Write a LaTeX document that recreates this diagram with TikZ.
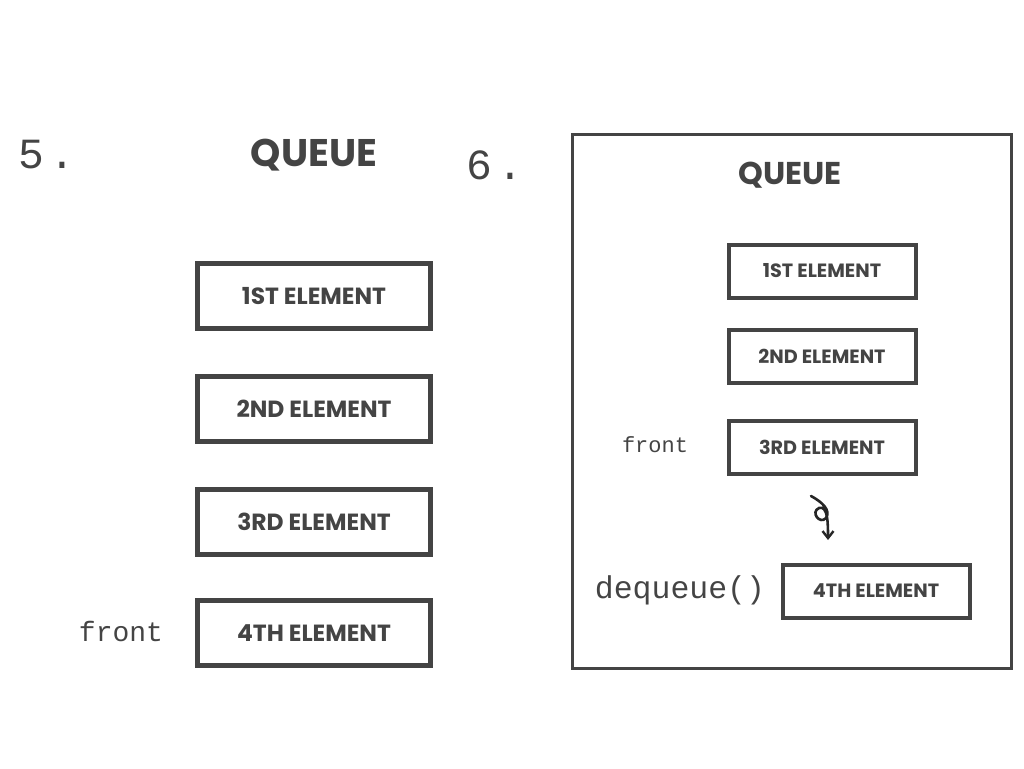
\documentclass[tikz,border=0pt]{standalone}
\usepackage{fontspec}
\setmainfont{Poppins}
\newfontfamily\monof{Liberation Mono}
\usetikzlibrary{arrows.meta}
\definecolor{ink}{HTML}{444444}
\tikzset{
  elbig/.style={draw=ink, line width=5pt, minimum width=233pt, minimum height=65pt, inner sep=0pt, text=ink, font=\fontsize{23.4}{23.4}\selectfont\bfseries},
  elsmall/.style={draw=ink, line width=4pt, minimum width=187pt, minimum height=53pt, inner sep=0pt, text=ink, font=\fontsize{19.2}{19.2}\selectfont\bfseries},
  title/.style={text=ink, font=\fontsize{38.5}{38.5}\selectfont\bfseries, inner sep=0pt},
  mono/.style={text=ink, inner sep=0pt, font=\monof},
}
\begin{document}
\begin{tikzpicture}[x=1pt,y=-1pt]
\useasboundingbox (0,0) rectangle (1024,768);
% left panel
\node[mono, font=\monof\fontsize{43}{43}\selectfont, anchor=west] (n5) at (18,155) {5\hspace{6pt}.};
\node[title] (q1) at (314,155) {QUEUE};
\node[elbig] (a1) at (314,296) {1ST ELEMENT};
\node[elbig] (a2) at (314,409) {2ND ELEMENT};
\node[elbig] (a3) at (314,522) {3RD ELEMENT};
\node[elbig] (a4) at (314,633) {4TH ELEMENT};
\node[mono, font=\monof\fontsize{28}{28}\selectfont] (f1) at (121,631) {front};
% right panel
\node[mono, font=\monof\fontsize{43}{43}\selectfont, anchor=west] (n6) at (466,165) {6\hspace{6pt}.};
\draw[ink, line width=3pt] (572,134) rectangle (1011,668);
\node[title, font=\fontsize{31.5}{31.5}\selectfont\bfseries] (q2) at (790,175) {QUEUE};
\node[elsmall] (b1) at (822,271) {1ST ELEMENT};
\node[elsmall] (b2) at (822,356) {2ND ELEMENT};
\node[elsmall] (b3) at (822,447) {3RD ELEMENT};
\node[elsmall] (b4) at (876,591) {4TH ELEMENT};
\node[mono, font=\monof\fontsize{22}{22}\selectfont] (f2) at (655,445) {front};
\node[mono, font=\monof\fontsize{31.5}{31.5}\selectfont] (dq) at (680,590) {dequeue()};
\coordinate (s) at (811,496);
\coordinate (e) at (828,540);
\draw[black!85, line width=2.6pt, line cap=round, -{Straight Barb[length=7pt,width=11pt,line width=2.4pt]}]
  (s) .. controls (822,502) and (831,510) .. (826,518)
      .. controls (820,525) and (810,512) .. (819,508)
      .. controls (828,505) and (828,524) .. (e);
\end{tikzpicture}
\end{document}
